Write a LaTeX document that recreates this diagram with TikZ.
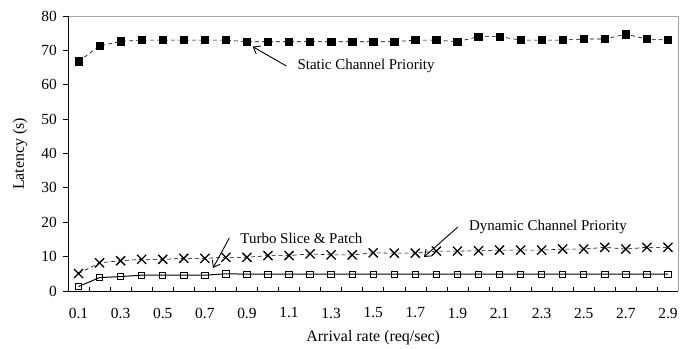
\documentclass[tikz,border=0pt]{standalone}
\usepackage{fontspec}
\setmainfont{Liberation Serif}
\usetikzlibrary{plotmarks,arrows.meta}
\tikzset{
  ticklabel/.style={font=\fontsize{15.5}{18}\selectfont, inner sep=0pt},
  axistitle/.style={font=\fontsize{16}{19}\selectfont, inner sep=0pt},
  callout/.style={font=\fontsize{15}{18}\selectfont, inner xsep=11bp, inner ysep=1bp},
  pointer/.style={-{Straight Barb[length=6bp,width=9bp]}, line width=0.9bp},
  staticline/.style={dash pattern=on 4bp off 3bp, line width=0.6bp, mark=square*, mark size=3.7bp, mark options={solid}},
  dynamicline/.style={dash pattern=on 4bp off 3bp, line width=0.6bp, mark=x, mark size=6.4bp, mark options={solid, line width=1.3bp}},
  turboline/.style={line width=1bp, mark=square, mark size=3.2bp, mark options={line width=0.9bp}},
}
\begin{document}
\begin{tikzpicture}[x=21.05bp, y=3.4375bp]
  \useasboundingbox (-68bp,-58bp) rectangle (626bp,291bp);
  % frame and axes
  \draw[gray!70] (0,80) -- (29,80) -- (29,0);
  \draw[line width=0.8bp] (0,80) -- (0,0) -- (29,0);
  \foreach \y in {0,10,...,80}{
    \draw[line width=0.8bp] (0,\y) -- ++(-5bp,0);
    \node[ticklabel, anchor=east] at ([xshift=-11bp]0,\y) {\y};
  }
  \foreach \i in {1,...,28}
    \draw[line width=0.6bp] (\i,0) -- ++(0,4bp);
  \foreach \i/\l in {1/0.1,3/0.3,5/0.5,7/0.7,9/0.9,11/1.1,13/1.3,15/1.5,17/1.7,19/1.9,21/2.1,23/2.3,25/2.5,27/2.7,29/2.9}
    \node[ticklabel] at (\i-0.5,-6.4) {\l};
  \node[axistitle] (xtitle) at (14.5,-13.7) {Arrival rate (req/sec)};
  \node[axistitle, rotate=90] (ytitle) at (-2.28,39.9) {Latency (s)};

  % series
  \begin{scope}[shift={(-0.5,0)}]
    \draw[staticline] plot coordinates {(1,66.8) (2,71.3) (3,72.6) (4,73) (5,73) (6,73) (7,73) (8,73)
      (9,72.5) (10,72.5) (11,72.5) (12,72.5) (13,72.5) (14,72.5) (15,72.5) (16,72.5) (17,73) (18,73)
      (19,72.5) (20,74) (21,74) (22,73) (23,73) (24,73) (25,73.3) (26,73.3) (27,74.7) (28,73.3) (29,73)};
    \draw[dynamicline] plot coordinates {(1,5.1) (2,8.2) (3,8.8) (4,9.2) (5,9.2) (6,9.5) (7,9.5) (8,9.8)
      (9,9.8) (10,10.3) (11,10.3) (12,10.8) (13,10.5) (14,10.5) (15,11.1) (16,11) (17,11) (18,11.6)
      (19,11.6) (20,11.7) (21,11.9) (22,11.9) (23,11.9) (24,12.2) (25,12.2) (26,12.7) (27,12.2) (28,12.7) (29,12.7)};
    \draw[turboline] plot coordinates {(1,1.3) (2,3.9) (3,4.2) (4,4.6) (5,4.6) (6,4.6) (7,4.6) (8,5)
      (9,4.9) (10,4.9) (11,4.9) (12,4.9) (13,4.9) (14,4.9) (15,4.9) (16,4.9) (17,4.9) (18,4.9)
      (19,4.9) (20,4.9) (21,4.9) (22,4.9) (23,4.9) (24,4.9) (25,4.9) (26,4.9) (27,4.9) (28,4.9) (29,4.9)};
  \end{scope}

  % callouts
  \coordinate (statictip) at (8.77,71.1);
  \coordinate (turbotip) at (6.89,6.7);
  \coordinate (dynamictip) at (16.91,9.9);
  \node[callout] (static) at (14.16,65.45) {Static Channel Priority};
  \node[callout] (turbo) at (11.09,15.42) {Turbo Slice \& Patch};
  \node[callout] (dynamic) at (22.8,18.62) {Dynamic Channel Priority};
  \draw[pointer] (static.west) -- (statictip);
  \draw[pointer] (turbo.west) -- (turbotip);
  \draw[pointer] (dynamic.west) -- (dynamictip);
\end{tikzpicture}
\end{document}
